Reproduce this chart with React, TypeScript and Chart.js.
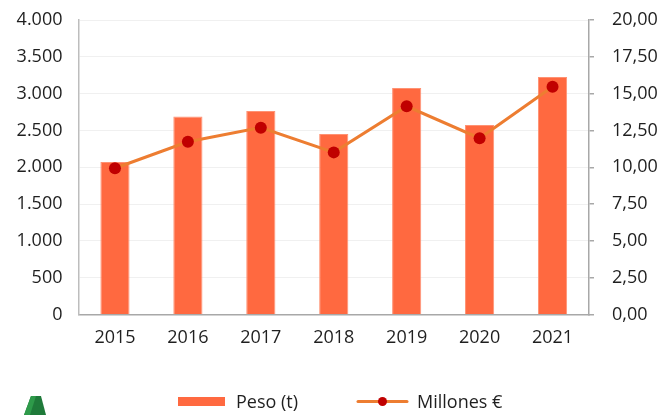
import React, { useEffect, useRef } from "react";
import { Chart, registerables } from "chart.js";

Chart.register(...registerables);

const years = ["2015", "2016", "2017", "2018", "2019", "2020", "2021"];
const pesoT = [2070, 2690, 2764, 2452, 3076, 2574, 3226];
const millonesEur = [9.93, 11.73, 12.69, 11.01, 14.14, 11.97, 15.47];
const legendLabels = ["Peso (t)", "Millones €"];

const BAR_COLOR = "#FF6940";
const LINE_COLOR = "#ED7D31";
const POINT_COLOR = "#C00000";
const FONT = "'Open Sans', sans-serif";
const TEXT_COLOR = "#1f1f1f";

const fmtThousands = (v: number) => {
  const s = Math.round(v).toString();
  return s.replace(/\B(?=(\d{3})+(?!\d))/g, ".");
};
const fmtDec = (v: number) => v.toFixed(2).replace(".", ",");

const legendPlugin = {
  id: "customLegend",
  afterDraw(chart: any) {
    const ctx = chart.ctx;
    ctx.save();
    ctx.fillStyle = BAR_COLOR;
    ctx.fillRect(178, 397, 47, 9);
    ctx.font = `18px ${FONT}`;
    ctx.fillStyle = TEXT_COLOR;
    ctx.textBaseline = "middle";
    ctx.textAlign = "left";
    ctx.fillText(legendLabels[0], 236, 403);
    ctx.strokeStyle = LINE_COLOR;
    ctx.lineWidth = 3;
    ctx.lineCap = "round";
    ctx.beginPath();
    ctx.moveTo(358, 401.5);
    ctx.lineTo(407, 401.5);
    ctx.stroke();
    ctx.fillStyle = POINT_COLOR;
    ctx.beginPath();
    ctx.arc(382.5, 401.5, 4.5, 0, Math.PI * 2);
    ctx.fill();
    ctx.fillStyle = TEXT_COLOR;
    ctx.fillText(legendLabels[1], 417, 403);
    ctx.fillStyle = "#1F7A3A";
    ctx.beginPath();
    ctx.moveTo(31, 396);
    ctx.lineTo(41, 396);
    ctx.lineTo(46, 415);
    ctx.lineTo(24, 415);
    ctx.closePath();
    ctx.fill();
    ctx.fillStyle = "#2E9A4A";
    ctx.beginPath();
    ctx.moveTo(31, 396);
    ctx.lineTo(36, 396);
    ctx.lineTo(30, 415);
    ctx.lineTo(24, 415);
    ctx.closePath();
    ctx.fill();
    ctx.restore();
  },
};

export default function App() {
  const ref = useRef<HTMLCanvasElement | null>(null);

  useEffect(() => {
    if (!ref.current) return;
    const chart = new Chart(ref.current, {
      type: "bar",
      data: {
        labels: years,
        datasets: [
          {
            type: "line",
            label: legendLabels[1],
            data: millonesEur,
            yAxisID: "y1",
            borderColor: LINE_COLOR,
            borderWidth: 3,
            pointBackgroundColor: POINT_COLOR,
            pointBorderColor: POINT_COLOR,
            pointRadius: 6,
            pointBorderWidth: 0,
            tension: 0,
            order: 0,
          } as any,
          {
            type: "bar",
            label: legendLabels[0],
            data: pesoT,
            yAxisID: "y",
            backgroundColor: BAR_COLOR,
            borderColor: "#FF9273",
            borderWidth: 1,
            barPercentage: 0.4,
            categoryPercentage: 1,
            order: 1,
          },
        ],
      },
      options: {
        responsive: false,
        animation: false,
        layout: { padding: { top: 20, left: 0, right: 0, bottom: 0 } },
        plugins: {
          legend: { display: false },
          tooltip: { enabled: false },
          title: { display: false },
        },
        scales: {
          x: {
            grid: { display: false, drawTicks: false },
            border: { display: true, color: "#a8a8a8", width: 1.5 },
            ticks: {
              color: TEXT_COLOR,
              font: { family: FONT, size: 18 },
              padding: 13,
            },
            afterFit(scale: any) {
              scale.height = 100.5;
              scale.paddingLeft = 0;
              scale.paddingRight = 0;
            },
          },
          y: {
            position: "left",
            min: 0,
            max: 4000,
            grid: { color: "#f0f0f0", lineWidth: 1, drawTicks: false },
            border: { display: true, color: "#bdbdbd", width: 1.5 },
            ticks: {
              stepSize: 500,
              color: TEXT_COLOR,
              font: { family: FONT, size: 18 },
              padding: 16,
              callback: (v: any) => fmtThousands(Number(v)),
            },
            afterFit(scale: any) {
              scale.width = 78.5;
              scale.paddingTop = 0;
              scale.paddingBottom = 0;
            },
          },
          y1: {
            position: "right",
            min: 0,
            max: 20,
            grid: {
              drawOnChartArea: false,
              drawTicks: true,
              tickLength: 5,
              color: "#a8a8a8",
              lineWidth: 1.5,
            },
            border: { display: true, color: "#a8a8a8", width: 1.5 },
            ticks: {
              stepSize: 2.5,
              color: TEXT_COLOR,
              font: { family: FONT, size: 18 },
              padding: 18,
              callback: (v: any) => fmtDec(Number(v)),
            },
            afterFit(scale: any) {
              scale.width = 81;
              scale.paddingTop = 0;
              scale.paddingBottom = 0;
            },
          },
        },
      },
      plugins: [legendPlugin],
    });
    return () => chart.destroy();
  }, []);

  return (
    <div style={{ position: "fixed", left: 0, top: 0, width: 670, height: 415, background: "#fff" }}>
      <canvas ref={ref} width={670} height={415} style={{ display: "block" }} />
    </div>
  );
}
